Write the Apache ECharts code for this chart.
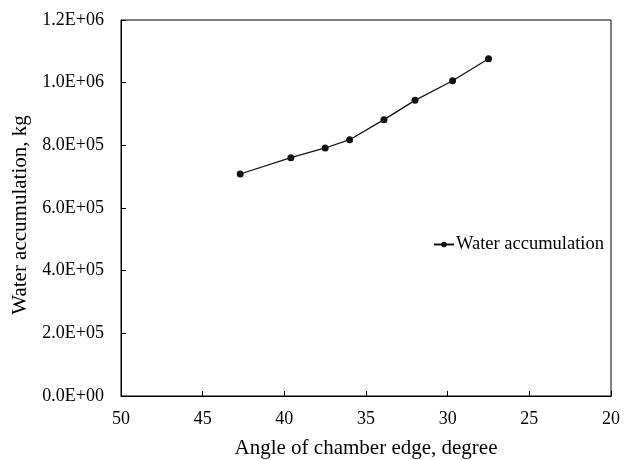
<!DOCTYPE html>
<html><head><meta charset="utf-8">
<script src="https://cdn.jsdelivr.net/npm/echarts@6/dist/echarts.min.js"></script>
<style>html,body{margin:0;padding:0;background:#fff}#c{width:632px;height:460px}</style>
</head><body><div id="c"></div>
<script>
const angles = [42.7, 39.6, 37.5, 36.0, 33.9, 32.0, 29.7, 27.5];
const water = [708500, 760500, 791500, 818000, 882000, 943500, 1006000, 1076500];
const seriesName = 'Water accumulation';
const xTitle = 'Angle of chamber edge, degree';
const yTitle = 'Water accumulation, kg';

function fmtE(v){
  let s = Number(v).toExponential(1).toUpperCase();
  return s.replace(/E([+-])(\d)$/, 'E$10$2');
}
const font = 'Liberation Serif';
const chart = echarts.init(document.getElementById('c'), null, {renderer:'canvas'});
chart.setOption({
  animation:false,
  textStyle:{fontFamily:font},
  grid:{left:121, right:21, top:20, bottom:64, containLabel:false, outerBoundsMode:'none',
    show:true, borderColor:'#000', borderWidth:1, backgroundColor:'transparent'},
  legend:{show:true, data:[seriesName], left:428, top:230, itemWidth:20, itemHeight:7, itemGap:2,
    textStyle:{fontFamily:font, fontSize:18.5, color:'#000', padding:[0,0,0,-3]}},
  xAxis:{type:'value', inverse:true, min:20, max:50, interval:5,
    name:xTitle, nameLocation:'middle', nameGap:42,
    nameTextStyle:{fontFamily:font, fontSize:21, color:'#000'},
    axisLine:{show:true, lineStyle:{color:'#000', width:1}},
    axisTick:{show:true, inside:true, length:5, lineStyle:{color:'#000'}},
    axisLabel:{fontFamily:font, fontSize:18, color:'#000', margin:14},
    splitLine:{show:false}},
  yAxis:{type:'value', min:0, max:1200000, interval:200000,
    name:yTitle, nameLocation:'middle', nameGap:87, nameRotate:90,
    nameTextStyle:{fontFamily:font, fontSize:21, color:'#000', padding:[0,14,0,0]},
    axisLine:{show:true, lineStyle:{color:'#000', width:1}},
    axisTick:{show:true, inside:true, length:5, lineStyle:{color:'#000'}},
    axisLabel:{fontFamily:font, fontSize:18, color:'#000', margin:17, formatter:fmtE},
    splitLine:{show:false}},
  series:[{name:seriesName, type:'line', data:angles.map((a,i)=>[a, water[i]]),
    symbol:'circle', symbolSize:7, itemStyle:{color:'#111'},
    lineStyle:{color:'#111', width:1.3}}]
});
</script></body></html>
